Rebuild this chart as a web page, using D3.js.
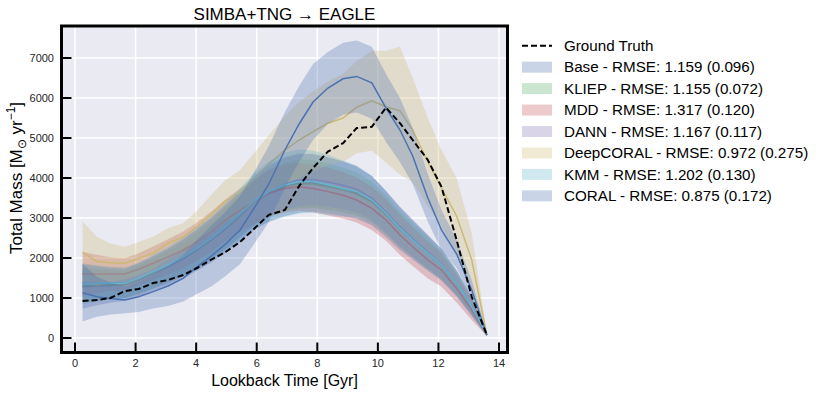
<!DOCTYPE html>
<html>
<head>
<meta charset="utf-8">
<script src="https://cdn.jsdelivr.net/npm/d3@7"></script>
<style>
  html, body { margin: 0; padding: 0; background: #ffffff; }
  svg { display: block; }
</style>
</head>
<body>
<svg id="chart" width="818" height="395"></svg>
<script>
// ---------------- DATA ----------------
const times = [0.25, 0.72, 1.17, 1.65, 2.1, 2.58, 3.07, 3.57, 4.03, 4.5, 4.97, 5.45, 5.94, 6.4, 6.93,
               7.4, 7.86, 8.35, 8.85, 9.3, 9.8, 10.27, 10.73, 11.15, 11.65, 12.1, 12.6, 13.1, 13.6];

const groundTruth = [925, 950, 1000, 1175, 1225, 1375, 1450, 1575, 1750, 1960, 2150, 2400, 2750, 3080, 3200,
                     3800, 4250, 4660, 4870, 5250, 5280, 5760, 5370, 4950, 4450, 3780, 2450, 1030, 75];

const baseMean = [1280, 1300, 1310, 1330, 1450, 1610, 1780, 1980, 2200, 2450, 2730, 3050, 3400, 3620, 3790,
                  3870, 3880, 3810, 3730, 3630, 3430, 3100, 2740, 2460, 2130, 1830, 1370, 780, 75];
const baseStd  = [550, 480, 430, 400, 410, 430, 460, 490, 520, 560, 600, 640, 680, 720, 740,
                  740, 720, 700, 680, 650, 620, 580, 540, 500, 450, 400, 330, 230, 30];

const kliepMean = [1310, 1320, 1330, 1340, 1460, 1620, 1790, 1980, 2200, 2460, 2740, 3060, 3400, 3620, 3780,
                   3850, 3850, 3780, 3700, 3600, 3400, 3080, 2720, 2450, 2120, 1820, 1360, 780, 75];
const kliepStd  = [430, 390, 360, 340, 350, 370, 390, 410, 440, 470, 500, 530, 560, 590, 610,
                   610, 600, 580, 560, 540, 510, 480, 450, 420, 390, 350, 290, 200, 30];

const mddMean = [1600, 1600, 1600, 1600, 1720, 1870, 2030, 2200, 2410, 2660, 2950, 3200, 3410, 3620, 3740,
                 3780, 3740, 3660, 3570, 3450, 3240, 2950, 2575, 2280, 1950, 1700, 1240, 700, 75];
const mddStd  = [550, 480, 420, 400, 400, 420, 440, 460, 480, 500, 520, 540, 560, 580, 600,
                 600, 600, 600, 580, 560, 540, 520, 500, 480, 460, 420, 350, 250, 30];

const dannMean = [1390, 1380, 1380, 1380, 1480, 1640, 1800, 2000, 2230, 2480, 2760, 3080, 3430, 3660, 3850,
                  3950, 3960, 3900, 3820, 3720, 3500, 3150, 2780, 2480, 2150, 1850, 1380, 790, 75];
const dannStd  = [480, 430, 400, 380, 390, 410, 430, 450, 480, 510, 540, 570, 600, 630, 650,
                  650, 640, 620, 600, 580, 550, 520, 490, 460, 420, 380, 310, 220, 30];

const deepcoralMean = [2150, 1910, 1880, 1870, 1990, 2120, 2370, 2530, 2780, 3100, 3420, 3650, 4000, 4350, 4700,
                       4950, 5160, 5370, 5500, 5770, 5930, 5780, 5680, 5200, 4400, 3750, 3050, 1950, 75];
const deepcoralStd  = [760, 620, 480, 410, 410, 410, 380, 340, 400, 480, 530, 550, 650, 720, 850,
                       950, 1000, 1050, 1100, 1150, 1250, 1400, 1600, 1300, 1100, 950, 950, 670, 30];

const kmmMean = [1350, 1370, 1370, 1370, 1490, 1660, 1830, 2030, 2240, 2490, 2780, 3100, 3450, 3660, 3830,
                 3910, 3910, 3830, 3740, 3660, 3450, 3120, 2740, 2450, 2120, 1830, 1370, 780, 75];
const kmmStd  = [500, 450, 400, 380, 400, 420, 450, 480, 520, 560, 600, 650, 700, 750, 800,
                 800, 780, 750, 700, 650, 600, 550, 500, 470, 430, 380, 320, 220, 30];

const coralMean = [1130, 1030, 990, 950, 1030, 1160, 1300, 1490, 1780, 2050, 2350, 2700, 3280, 3850, 4700,
                   5350, 5900, 6250, 6480, 6540, 6380, 5750, 5200, 4550, 3500, 2700, 2100, 1200, 75];
const coralStd  = [720, 500, 400, 330, 380, 420, 500, 580, 680, 760, 800, 850, 900, 950, 950,
                   950, 950, 900, 900, 900, 900, 850, 800, 700, 600, 500, 350, 250, 30];

const seriesNames = ["Base - RMSE: 1.159 (0.096)", "KLIEP - RMSE: 1.155 (0.072)", "MDD - RMSE: 1.317 (0.120)",
                     "DANN - RMSE: 1.167 (0.117)", "DeepCORAL - RMSE: 0.972 (0.275)", "KMM - RMSE: 1.202 (0.130)",
                     "CORAL - RMSE: 0.875 (0.172)"];
const seriesColors = ["#4C72B0", "#55A868", "#C44E52", "#8172B2", "#CCB974", "#64B5CD", "#4C72B0"];
const xTicks = [0, 2, 4, 6, 8, 10, 12, 14];
const yTicks = [0, 1000, 2000, 3000, 4000, 5000, 6000, 7000];

const series = [
  {mean: baseMean, std: baseStd},
  {mean: kliepMean, std: kliepStd},
  {mean: mddMean, std: mddStd},
  {mean: dannMean, std: dannStd},
  {mean: deepcoralMean, std: deepcoralStd},
  {mean: kmmMean, std: kmmStd},
  {mean: coralMean, std: coralStd}
].map((s, i) => ({...s, name: seriesNames[i], color: seriesColors[i]}));

// ---------------- LAYOUT ----------------
const svg = d3.select("#chart");
const L = 61.5, R = 507.5, T = 26, B = 352.5;

const x = d3.scaleLinear().domain([-0.446, 14.28]).range([L, R]);
const y = d3.scaleLinear().domain([-362, 7800]).range([B, T]);

svg.append("defs").append("clipPath").attr("id", "clip")
  .append("rect").attr("x", L).attr("y", T).attr("width", R - L).attr("height", B - T);

// background
svg.append("rect").attr("x", L).attr("y", T).attr("width", R - L).attr("height", B - T).attr("fill", "#EAEAF2");

// grid
const grid = svg.append("g");
xTicks.forEach(t => grid.append("line").attr("x1", x(t)).attr("x2", x(t)).attr("y1", T).attr("y2", B)
  .attr("stroke", "#ffffff").attr("stroke-width", 1.5));
yTicks.forEach(t => grid.append("line").attr("x1", L).attr("x2", R).attr("y1", y(t)).attr("y2", y(t))
  .attr("stroke", "#ffffff").attr("stroke-width", 1.5));

const plot = svg.append("g").attr("clip-path", "url(#clip)");

const area = d3.area().x((d, i) => x(times[i])).y0(d => y(d[0])).y1(d => y(d[1]));
const line = d3.line().x((d, i) => x(times[i])).y(d => y(d));

series.forEach(s => {
  const band = s.mean.map((m, i) => [m - s.std[i], m + s.std[i]]);
  plot.append("path").datum(band).attr("d", area).attr("fill", s.color).attr("fill-opacity", 0.3).attr("stroke", "none");
  plot.append("path").datum(s.mean).attr("d", line).attr("fill", "none").attr("stroke", s.color).attr("stroke-width", 1.5);
});

plot.append("path").datum(groundTruth).attr("d", line).attr("fill", "none")
  .attr("stroke", "#000000").attr("stroke-width", 2).attr("stroke-dasharray", "6,3");

// frame
svg.append("rect").attr("x", L).attr("y", T).attr("width", R - L).attr("height", B - T)
  .attr("fill", "none").attr("stroke", "#000000").attr("stroke-width", 3);

// ticks (inward)
const tickFont = "'Liberation Sans Narrow', 'Liberation Sans', Arial, sans-serif";
xTicks.forEach(t => {
  svg.append("line").attr("x1", x(t)).attr("x2", x(t)).attr("y1", B).attr("y2", B - 10)
    .attr("stroke", "#000").attr("stroke-width", 2);
  svg.append("text").attr("x", x(t)).attr("y", 367).attr("text-anchor", "middle")
    .attr("font-family", tickFont).attr("font-size", 11).attr("fill", "#262626").text(d3.format("d")(t));
});
yTicks.forEach(t => {
  svg.append("line").attr("x1", L).attr("x2", L + 10).attr("y1", y(t)).attr("y2", y(t))
    .attr("stroke", "#000").attr("stroke-width", 2);
  svg.append("text").attr("x", 54).attr("y", y(t)).attr("dy", "0.35em").attr("text-anchor", "end")
    .attr("font-family", tickFont).attr("font-size", 11).attr("fill", "#262626").text(d3.format("d")(t));
});

const labelFont = "'Liberation Sans', Arial, sans-serif";
// title
svg.append("text").attr("x", (L + R) / 2).attr("y", 20).attr("text-anchor", "middle")
  .attr("font-family", labelFont).attr("font-size", 17).attr("fill", "#000").text("SIMBA+TNG \u2192 EAGLE");

// x label
svg.append("text").attr("x", (L + R) / 2).attr("y", 386).attr("text-anchor", "middle")
  .attr("font-family", labelFont).attr("font-size", 16).attr("fill", "#000").text("Lookback Time [Gyr]");

// y label
const yl = svg.append("text").attr("transform", "translate(22,178) rotate(-90)").attr("text-anchor", "middle")
  .attr("font-family", labelFont).attr("font-size", 17).attr("fill", "#000");
yl.append("tspan").text("Total Mass [M");
yl.append("tspan").attr("font-size", 12).attr("dy", 4).text("\u2299");
yl.append("tspan").attr("dy", -4).text(" yr");
yl.append("tspan").attr("font-size", 12).attr("dy", -7).text("\u22121");
yl.append("tspan").attr("dy", 7).text("]");

// legend
const lg = svg.append("g");
const ly0 = 45.7, ldy = 21.45;
lg.append("line").attr("x1", 522).attr("x2", 552).attr("y1", ly0).attr("y2", ly0)
  .attr("stroke", "#000").attr("stroke-width", 2).attr("stroke-dasharray", "6,3");
lg.append("text").attr("x", 564).attr("y", ly0).attr("dy", "0.35em").attr("font-family", labelFont)
  .attr("font-size", 15.2).attr("fill", "#000").text("Ground Truth");
series.forEach((s, i) => {
  const yy = ly0 + ldy * (i + 1);
  lg.append("rect").attr("x", 522).attr("y", yy - 5.5).attr("width", 30).attr("height", 11)
    .attr("fill", s.color).attr("fill-opacity", 0.3);
  lg.append("text").attr("x", 564).attr("y", yy).attr("dy", "0.35em").attr("font-family", labelFont)
    .attr("font-size", 15.2).attr("fill", "#000").text(s.name);
});
</script>
</body>
</html>
